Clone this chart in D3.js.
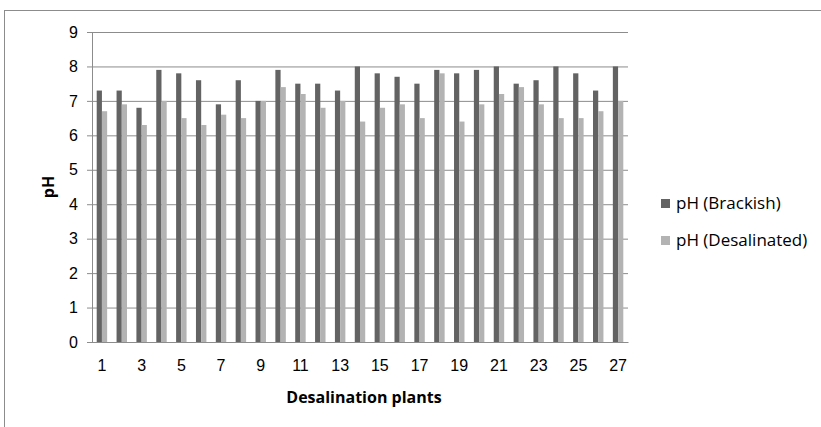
<!DOCTYPE html>
<html>
<head>
<meta charset="utf-8">
<script src="https://cdn.jsdelivr.net/npm/d3@7"></script>
<style>
  body { margin: 0; background: #fff; }
  svg { display: block; font-family: "Open Sans", sans-serif; }
</style>
</head>
<body>
<div class="svg-container"></div>
<script>
// plant numbers 1..27
const plants = d3.range(1, 28);
const brackish = [7.3, 7.3, 6.8, 7.9, 7.8, 7.6, 6.9, 7.6, 7.0, 7.9, 7.5, 7.5, 7.3, 8.0,
                  7.8, 7.7, 7.5, 7.9, 7.8, 7.9, 8.0, 7.5, 7.6, 8.0, 7.8, 7.3, 8.0];
const desalinated = [6.7, 6.9, 6.3, 7.0, 6.5, 6.3, 6.6, 6.5, 7.0, 7.4, 7.2, 6.8, 7.0, 6.4,
                     6.8, 6.9, 6.5, 7.8, 6.4, 6.9, 7.2, 7.4, 6.9, 6.5, 6.5, 6.7, 7.0];
const seriesNames = ['pH (Brackish)', 'pH (Desalinated)'];
const seriesColors = ['#636363', '#b3b3b3'];
const yTicks = d3.range(0, 10);

const width = 821, height = 427;
const plot = { left: 92, right: 628, top: 32, bottom: 342 };
const fontSize = 16;

const svg = d3.select('.svg-container')
    .append('svg')
    .attr('width', width)
    .attr('height', height);

// outer chart border
svg.append('rect')
    .attr('x', 4.5).attr('y', 10.5)
    .attr('width', 900).attr('height', 500)
    .attr('fill', 'none')
    .attr('stroke', '#8c8c8c');

const xScale = d3.scaleBand()
    .domain(plants)
    .range([plot.left, plot.right]);

const inner = d3.scaleBand()
    .domain([0, 1])
    .range([0, xScale.bandwidth()])
    .paddingOuter(0.9)
    .paddingInner(0);

const yScale = d3.scaleLinear()
    .domain([0, 9])
    .range([plot.bottom, plot.top]);

// gridlines + y axis
const yAxis = d3.axisLeft(yScale)
    .tickValues(yTicks)
    .tickSize(-(plot.right - plot.left))
    .tickPadding(14);

svg.append('g')
    .attr('class', 'y-axis')
    .attr('transform', `translate(${plot.left}, 0)`)
    .call(yAxis)
    .call(g => g.select('.domain').remove())
    .call(g => g.selectAll('.tick line')
        .attr('stroke', '#8c8c8c')
        .attr('x1', -5))
    .call(g => g.selectAll('.tick text')
        .attr('font-size', fontSize)
        .attr('fill', '#000'));

// y axis line
svg.append('line')
    .attr('x1', plot.left + 0.5).attr('x2', plot.left + 0.5)
    .attr('y1', plot.top).attr('y2', plot.bottom)
    .attr('stroke', '#8c8c8c');

// bars
const data = plants.map((p, i) => ({ plant: p, values: [brackish[i], desalinated[i]] }));

svg.selectAll('.plant')
    .data(data)
    .join('g')
    .attr('class', 'plant')
    .attr('transform', d => `translate(${xScale(d.plant)}, 0)`)
    .selectAll('rect')
    .data(d => d.values)
    .join('rect')
    .attr('x', (d, i) => inner(i))
    .attr('width', inner.bandwidth())
    .attr('y', d => yScale(d))
    .attr('height', d => yScale(0) - yScale(d))
    .attr('fill', (d, i) => seriesColors[i]);

// x axis, labels on odd plants only
const xAxis = d3.axisBottom(xScale)
    .tickValues(plants.filter(p => p % 2 === 1))
    .tickSize(0)
    .tickPadding(18);

svg.append('g')
    .attr('class', 'x-axis')
    .attr('transform', `translate(0, ${plot.bottom})`)
    .call(xAxis)
    .call(g => g.select('.domain').attr('stroke', '#8c8c8c'))
    .call(g => g.selectAll('.tick text')
        .attr('font-size', fontSize)
        .attr('fill', '#000'));

// axis titles
svg.append('text')
    .attr('x', 364)
    .attr('y', 403)
    .attr('text-anchor', 'middle')
    .attr('font-size', fontSize)
    .attr('font-weight', 'bold')
    .text('Desalination plants');

svg.append('text')
    .attr('transform', `translate(54, ${(plot.top + plot.bottom) / 2}) rotate(-90)`)
    .attr('text-anchor', 'middle')
    .attr('font-size', fontSize)
    .attr('font-weight', 'bold')
    .text('pH');

// legend
const legend = svg.selectAll('.legend')
    .data(seriesNames)
    .join('g')
    .attr('class', 'legend')
    .attr('transform', (d, i) => `translate(661, ${203 + i * 37})`);

legend.append('rect')
    .attr('x', 0).attr('y', -4)
    .attr('width', 9).attr('height', 9)
    .attr('fill', (d, i) => seriesColors[i]);

legend.append('text')
    .attr('x', 15)
    .attr('y', 6)
    .attr('font-size', 17)
    .text(d => d);
</script>
</body>
</html>
